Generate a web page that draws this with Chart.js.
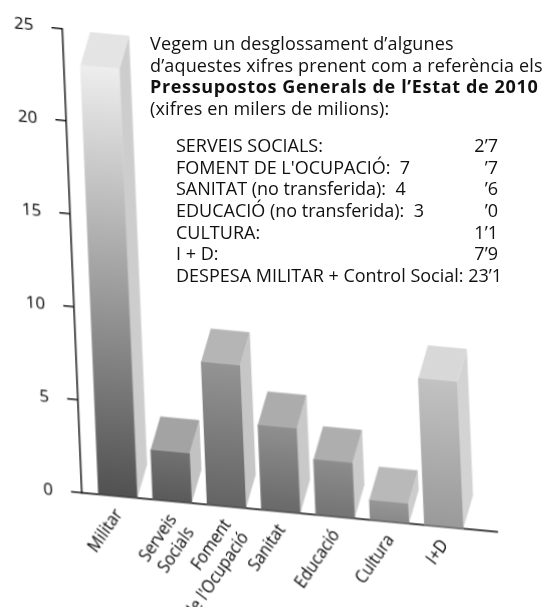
<!DOCTYPE html>
<html>
<head>
<meta charset="utf-8">
<script src="https://cdn.jsdelivr.net/npm/chart.js@4/dist/chart.umd.min.js"></script>
<style>
  html, body { margin: 0; padding: 0; background: #fff; }
  body { width: 551px; height: 607px; position: relative; overflow: hidden; font-family: 'Open Sans', sans-serif; color: #111; }
  #chart { position: absolute; left: 0; top: 0; transform-origin: 82px 493px; transform: matrix(1, 0.094, 0.042, 1, 0, 0); }
  .note { position: absolute; left: 150px; top: 33px; font-size: 18px; line-height: 21.5px; letter-spacing: 0.15px; white-space: nowrap; }
  .note b { font-weight: 700; letter-spacing: 0.65px; }
  .list { position: absolute; left: 176px; top: 135px; width: 322px; font-size: 18px; line-height: 21.67px; }
  .row { display: flex; justify-content: space-between; white-space: pre; }
</style>
</head>
<body>
<canvas id="chart" width="551" height="607"></canvas>

<div class="note">
  Vegem un desglossament d’algunes<br>
  d’aquestes xifres prenent com a referència els<br>
  <b>Pressupostos Generals de l’Estat de 2010</b><br>
  (xifres en milers de milions):
</div>
<div class="list">
  <div class="row"><span>SERVEIS SOCIALS:</span><span>2’7</span></div>
  <div class="row"><span>FOMENT DE L'OCUPACIÓ:  7</span><span>’7</span></div>
  <div class="row"><span>SANITAT (no transferida):  4</span><span>’6</span></div>
  <div class="row"><span>EDUCACIÓ (no transferida):  3</span><span>’0</span></div>
  <div class="row"><span>CULTURA:</span><span>1’1</span></div>
  <div class="row"><span>I + D:</span><span>7’9</span></div>
  <div class="row"><span>DESPESA MILITAR + Control Social: 23’1</span></div>
</div>

<script>
const labels = ['Militar', ['Serveis', 'Socials'], ['Foment', "de l'Ocupació"], 'Sanitat', 'Educació', 'Cultura', 'I+D'];
const values = [23.1, 2.7, 7.7, 4.6, 3.0, 1.1, 7.9];
const yTicks = [0, 5, 10, 15, 20, 25];

// shading of the fake 3d boxes (front gradient top/bottom, top face, side face)
const frontShade = [['#eeeeee', '#515151'], ['#727272', '#5a5a5a'], ['#949494', '#646464'], ['#909090', '#696969'], ['#8d8d8d', '#747474'], ['#979797', '#898989'], ['#c2c2c2', '#9a9a9a']];
const topShade = ['#e4e4e4', '#a3a3a3', '#b5b5b5', '#acacac', '#aeaeae', '#b9b9b9', '#d8d8d8'];
const sideShade = ['#cdcdcd', '#c2c2c2', '#c6c6c6', '#c9c9c9', '#cbcbcb', '#cdcdcd', '#d3d3d3'];
const DX = 11, DY = 34;

const box3d = {
  id: 'box3d',
  afterDatasetsDraw(chart) {
    const ctx = chart.ctx;
    chart.getDatasetMeta(0).data.forEach((bar, i) => {
      const { x, y, base, width } = bar.getProps(['x', 'y', 'base', 'width'], true);
      const l = x - width / 2, r = x + width / 2;
      ctx.save();
      ctx.fillStyle = sideShade[i];
      ctx.beginPath();
      ctx.moveTo(r, y);
      ctx.lineTo(r + DX, y - DY);
      ctx.lineTo(r + DX, base - DY);
      ctx.lineTo(r, base);
      ctx.closePath();
      ctx.fill();
      ctx.fillStyle = topShade[i];
      ctx.beginPath();
      ctx.moveTo(l, y);
      ctx.lineTo(l + DX, y - DY);
      ctx.lineTo(r + DX, y - DY);
      ctx.lineTo(r, y);
      ctx.closePath();
      ctx.fill();
      ctx.restore();
    });
  }
};

const frontFill = (c) => {
  const { chart, dataIndex } = c;
  if (!chart.chartArea || dataIndex === undefined) return '#777';
  const ys = chart.scales.y;
  const g = chart.ctx.createLinearGradient(0, ys.getPixelForValue(values[dataIndex]), 0, ys.getPixelForValue(0));
  g.addColorStop(0, frontShade[dataIndex][0]);
  g.addColorStop(1, frontShade[dataIndex][1]);
  return g;
};

new Chart(document.getElementById('chart'), {
  type: 'bar',
  data: {
    datasets: [{
      data: values.map((v, i) => ({ x: i, y: v })),
      backgroundColor: frontFill,
      borderWidth: 0,
      barThickness: 39
    }]
  },
  options: {
    responsive: false,
    animation: false,
    devicePixelRatio: 1,
    layout: { padding: { top: 20, right: 54, left: 0, bottom: 0 } },
    plugins: { legend: { display: false }, tooltip: { enabled: false } },
    scales: {
      x: {
        type: 'linear',
        min: -0.663,
        max: 6.976,
        offset: false,
        grid: { display: true, drawOnChartArea: false, drawTicks: false },
        border: { display: true, color: '#000', width: 1.4 },
        ticks: {
          stepSize: 1,
          includeBounds: false,
          autoSkip: false,
          minRotation: 56,
          maxRotation: 56,
          padding: 9,
          color: '#000',
          font: { family: 'Open Sans', size: 17 },
          callback: (v) => labels[v] ?? ''
        },
        afterFit: (s) => { s.height = 114; }
      },
      y: {
        min: 0,
        max: 25,
        afterBuildTicks: (s) => { s.ticks = yTicks.map(v => ({ value: v })); },
        ticks: { padding: 18, color: '#000', font: { family: 'Open Sans', size: 17 } },
        grid: { drawOnChartArea: false, drawTicks: true, tickLength: 11, color: '#000', lineWidth: 1.4 },
        border: { color: '#000', width: 1.4 },
        afterFit: (s) => { s.width = 82; }
      }
    }
  },
  plugins: [box3d]
});
</script>
</body>
</html>
